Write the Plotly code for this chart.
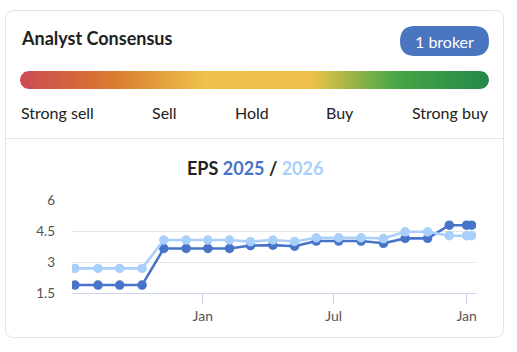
import numpy as np
import plotly.graph_objects as go

# ---------------- data ----------------
dates = ["2024-07-08", "2024-08-09", "2024-09-08", "2024-10-09", "2024-11-08", "2024-12-09",
         "2025-01-08", "2025-02-07", "2025-03-08", "2025-04-08", "2025-05-08", "2025-06-07",
         "2025-07-08", "2025-08-08", "2025-09-08", "2025-10-08", "2025-11-08", "2025-12-08",
         "2026-01-01", "2026-01-08"]
eps_2025 = [1.90, 1.90, 1.90, 1.90, 3.68, 3.68, 3.68, 3.68, 3.82, 3.84, 3.79, 4.04,
            4.04, 4.04, 3.93, 4.17, 4.17, 4.81, 4.81, 4.81]
eps_2026 = [2.71, 2.71, 2.71, 2.71, 4.09, 4.09, 4.09, 4.09, 4.01, 4.09, 4.02, 4.20,
            4.20, 4.20, 4.16, 4.49, 4.49, 4.30, 4.30, 4.30]
y_ticks = [1.5, 3, 4.5, 6]
y_ticktext = ["1.5", "3", "4.5", "6"]
x_tickvals = ["2025-01-01", "2025-07-01", "2026-01-01"]
x_ticktext = ["Jan", "Jul", "Jan"]
rating_labels = ["Strong sell", "Sell", "Hold", "Buy", "Strong buy"]
broker_text = "1 broker"

W, H = 517, 352
DARK = "#4774c8"
LIGHT = "#a9d0fa"
FONT = "Lato"


def rrect(x0, y0, x1, y1, r):
    return (f"M{x0+r},{y0} L{x1-r},{y0} Q{x1},{y0} {x1},{y0+r} L{x1},{y1-r} "
            f"Q{x1},{y1} {x1-r},{y1} L{x0+r},{y1} Q{x0},{y1} {x0},{y1-r} "
            f"L{x0},{y0+r} Q{x0},{y0} {x0+r},{y0} Z")


fig = go.Figure()

# EPS series
fig.add_trace(go.Scatter(x=dates, y=eps_2025, mode="lines+markers", name="2025",
                         line=dict(color=DARK, width=2.6), marker=dict(size=9.5, color=DARK),
                         xaxis="x", yaxis="y", showlegend=False))
fig.add_trace(go.Scatter(x=dates, y=eps_2026, mode="lines+markers", name="2026",
                         line=dict(color=LIGHT, width=2.6), marker=dict(size=9.5, color=LIGHT),
                         xaxis="x", yaxis="y", showlegend=False))

# gradient consensus bar (decoration in pixel space)
bx0, bx1, by0, by1 = 20, 489, 71, 89
r = (by1 - by0) / 2
cy = (by0 + by1) / 2
t1 = np.linspace(-np.pi / 2, np.pi / 2, 30)
t2 = np.linspace(np.pi / 2, 3 * np.pi / 2, 30)
px = list(bx1 - r + r * np.cos(t1)) + list(bx0 + r + r * np.cos(t2))
py = list(cy + r * np.sin(t1)) + list(cy + r * np.sin(t2))
fig.add_trace(go.Scatter(x=px, y=py, mode="lines", fill="toself", line=dict(width=0),
                         fillgradient=dict(type="horizontal", colorscale=[
                             [0.0, "#cd4a52"], [0.2, "#d97b2f"], [0.4, "#efc34b"],
                             [0.62, "#eec24a"], [0.8, "#48a645"], [1.0, "#23874a"]]),
                         xaxis="x2", yaxis="y2", hoverinfo="skip", showlegend=False))

shapes = [
    dict(type="path", path=rrect(5.5, 10.5, 503.5, 337.5, 9), xref="x2", yref="y2",
         line=dict(color="#e2e2e2", width=1), fillcolor="rgba(0,0,0,0)", layer="below"),
    dict(type="line", x0=6, x1=503, y0=138.5, y1=138.5, xref="x2", yref="y2",
         line=dict(color="#e6e6e6", width=1)),
    dict(type="path", path=rrect(400, 26, 489, 56, 15), xref="x2", yref="y2",
         line=dict(width=0), fillcolor="#4a76c0"),
]

annotations = [
    dict(text="<b>Analyst Consensus</b>", x=19, y=38, xanchor="left", yanchor="middle",
         font=dict(family=FONT, size=18, color="#1e1e1e")),
    dict(text=broker_text, x=444.5, y=41, xanchor="center", yanchor="middle",
         font=dict(family=FONT, size=16, color="white")),
    dict(text=f"<b>EPS <span style='color:{DARK}'>2025</span> / "
              f"<span style='color:{LIGHT}'>2026</span></b>",
         x=255, y=168, xanchor="center", yanchor="middle",
         font=dict(family=FONT, size=18, color="#222222")),
]
label_x = [18.5, 164, 251.5, 340, 490.5]
label_anchor = ["left", "center", "center", "center", "right"]
for t, lx, an in zip(rating_labels, label_x, label_anchor):
    annotations.append(dict(text=t, x=lx, y=112, xanchor=an, yanchor="middle",
                            font=dict(family=FONT, size=16, color="#222222")))
for a in annotations:
    a.update(xref="x2", yref="y2", showarrow=False)

fig.update_layout(
    width=W, height=H, margin=dict(l=0, r=0, t=0, b=0, pad=0, autoexpand=False),
    paper_bgcolor="white", plot_bgcolor="rgba(0,0,0,0)",
    shapes=shapes, annotations=annotations, showlegend=False,
    xaxis=dict(type="date", domain=[72 / W, 476 / W], range=["2024-07-04", "2026-01-14"],
               tickvals=x_tickvals, ticktext=x_ticktext, showgrid=False, zeroline=False,
               showline=True, linecolor="#ccd6eb", linewidth=1,
               ticks="outside", ticklen=10, tickcolor="#ccd6eb", tickwidth=1,
               tickfont=dict(family=FONT, size=14, color="#555555"), anchor="y",
               automargin=False, fixedrange=True),
    yaxis=dict(domain=[1 - 293.3 / H, 1 - 200.7 / H], range=[1.5, 6],
               tickvals=y_ticks, ticktext=y_ticktext, showgrid=True, gridcolor="#e6e6e6",
               gridwidth=1, zeroline=False, showline=False, ticks="",
               ticklabelstandoff=16,
               tickfont=dict(family=FONT, size=13.5, color="#555555"), anchor="x",
               automargin=False, fixedrange=True),
    xaxis2=dict(domain=[0, 1], range=[0, W], visible=False, anchor="y2",
                automargin=False, fixedrange=True),
    yaxis2=dict(domain=[0, 1], range=[H, 0], visible=False, anchor="x2",
                automargin=False, fixedrange=True),
)

fig.write_html("out.html")
